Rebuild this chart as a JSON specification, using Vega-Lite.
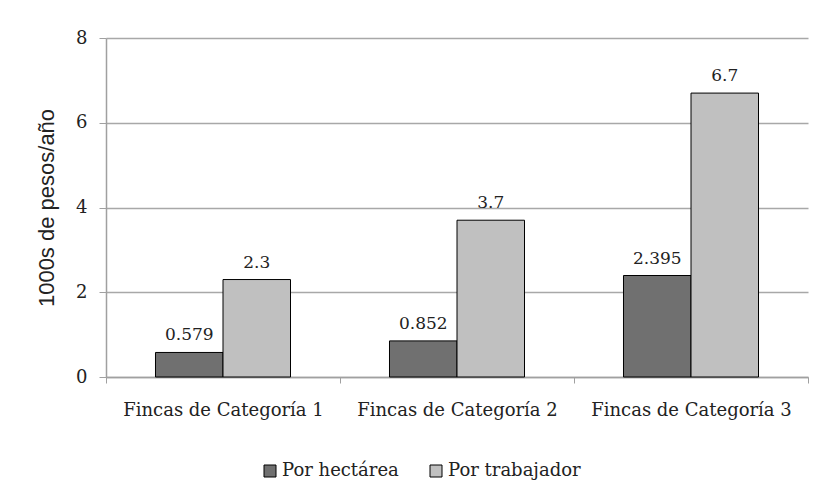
{
  "$schema": "https://vega.github.io/schema/vega-lite/v6.json",
  "width": 702,
  "height": 339,
  "autosize": "none",
  "padding": {"left": 106, "top": 38, "right": 12, "bottom": 121},
  "background": "white",
  "data": {
    "values": [
      {"cat": "Fincas de Categoría 1", "serie": "Por hectárea", "valor": 0.579},
      {"cat": "Fincas de Categoría 1", "serie": "Por trabajador", "valor": 2.3},
      {"cat": "Fincas de Categoría 2", "serie": "Por hectárea", "valor": 0.852},
      {"cat": "Fincas de Categoría 2", "serie": "Por trabajador", "valor": 3.7},
      {"cat": "Fincas de Categoría 3", "serie": "Por hectárea", "valor": 2.395},
      {"cat": "Fincas de Categoría 3", "serie": "Por trabajador", "valor": 6.7}
    ]
  },
  "encoding": {
    "x": {
      "field": "cat",
      "type": "nominal",
      "sort": null,
      "scale": {"paddingInner": 0, "paddingOuter": 0},
      "axis": {
        "title": null,
        "labelAngle": 0,
        "labelLimit": 0,
        "tickBand": "extent",
        "ticks": true,
        "tickSize": 6,
        "tickColor": "#a0a0a0",
        "domainColor": "#a0a0a0",
        "domainWidth": 1.5,
        "labelFont": "DejaVu Serif",
        "labelFontSize": 18,
        "labelColor": "#222222",
        "labelPadding": 18
      }
    },
    "xOffset": {
      "field": "serie",
      "type": "nominal",
      "sort": ["Por hectárea", "Por trabajador"],
      "scale": {"paddingOuter": 0.733, "paddingInner": 0}
    },
    "y": {
      "field": "valor",
      "type": "quantitative",
      "scale": {"domain": [0, 8], "nice": false},
      "axis": {
        "values": [0, 2, 4, 6, 8],
        "grid": true,
        "gridColor": "#a8a8a8",
        "gridWidth": 1.5,
        "tickSize": 7,
        "tickColor": "#a0a0a0",
        "domainColor": "#a0a0a0",
        "domainWidth": 1.5,
        "labelFont": "DejaVu Serif",
        "labelFontSize": 18,
        "labelColor": "#222222",
        "labelPadding": 12,
        "title": "1000s de pesos/año",
        "titleFont": "Liberation Sans",
        "titleFontSize": 22,
        "titleFontWeight": "normal",
        "titleColor": "#222222",
        "titleX": -60,
        "titleY": 169.5,
        "titleBaseline": "middle"
      }
    }
  },
  "layer": [
    {
      "mark": {"type": "bar", "stroke": "black", "strokeWidth": 1},
      "encoding": {
        "color": {
          "field": "serie",
          "type": "nominal",
          "scale": {"domain": ["Por hectárea", "Por trabajador"], "range": ["#707070", "#c0c0c0"]},
          "legend": {
            "orient": "none",
            "legendX": 155,
            "legendY": 424,
            "direction": "horizontal",
            "title": null,
            "symbolType": "square",
            "symbolSize": 144,
            "symbolStrokeColor": "black",
            "symbolStrokeWidth": 1,
            "labelFont": "DejaVu Serif",
            "labelFontSize": 18,
            "labelColor": "#222222",
            "labelOffset": 3,
            "columnPadding": 28,
            "padding": 0
          }
        }
      }
    },
    {
      "mark": {"type": "text", "font": "DejaVu Serif", "fontSize": 17, "baseline": "alphabetic", "dy": -12, "color": "#222222"},
      "encoding": {
        "text": {"field": "valor", "type": "quantitative"}
      }
    }
  ],
  "config": {"view": {"stroke": null}}
}
